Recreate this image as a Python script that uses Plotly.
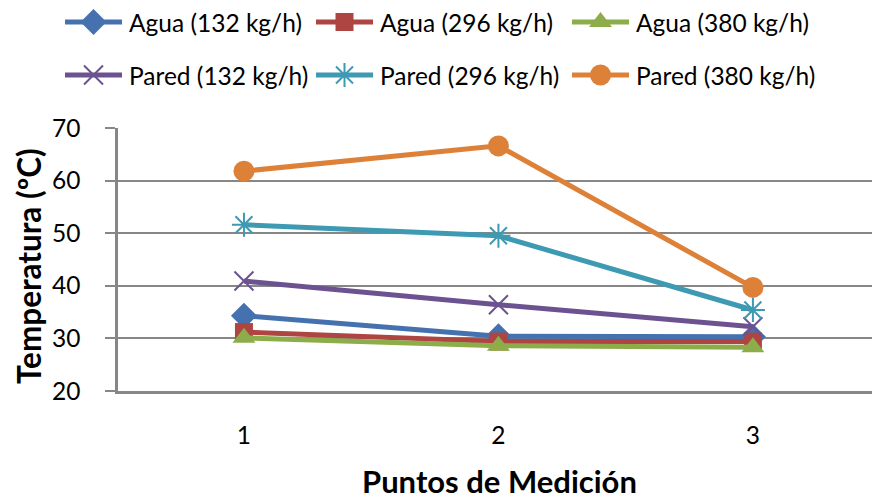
import plotly.graph_objects as go

# Measurement points and temperatures (ºC)
puntos = [1, 2, 3]

agua_132 = [34.3, 30.4, 30.3]
agua_296 = [31.2, 29.4, 29.4]
agua_380 = [30.1, 28.6, 28.3]
pared_132 = [40.9, 36.4, 32.2]
pared_296 = [51.6, 49.5, 35.4]
pared_380 = [61.8, 66.6, 39.7]

series = [
    ("Agua (132 kg/h)", agua_132, "#4572AE", "diamond", 20),
    ("Agua (296 kg/h)", agua_296, "#AF4542", "square", 18),
    ("Agua (380 kg/h)", agua_380, "#8DAC4A", "triangle-up", 20),
    ("Pared (132 kg/h)", pared_132, "#6C5291", "x-thin-open", 19),
    ("Pared (296 kg/h)", pared_296, "#3D9AB2", "asterisk-open", 20),
    ("Pared (380 kg/h)", pared_380, "#DE8138", "circle", 21),
]

FONT = "Lato"
W, H = 872, 502
GRID = "#878787"

fig = go.Figure()

for name, vals, color, sym, size in series:
    thin = sym.endswith("open")
    fig.add_trace(go.Scatter(
        x=puntos, y=vals, mode="lines+markers", name=name,
        line=dict(color=color, width=5),
        marker=dict(symbol=sym, size=size, color=color,
                    line=dict(color=color, width=2 if thin else 0)),
        showlegend=False, cliponaxis=False,
    ))

# Legend drawn on a full-figure axis pair in pixel units
leg_cols = [65, 316, 572]
leg_rows = [22, 75]
for i, (name, vals, color, sym, size) in enumerate(series):
    x0 = leg_cols[i % 3]
    y0 = leg_rows[i // 3]
    thin = sym.endswith("open")
    fig.add_trace(go.Scatter(
        x=[x0, x0 + 57], y=[y0, y0], mode="lines",
        line=dict(color=color, width=5), xaxis="x2", yaxis="y2",
        showlegend=False, hoverinfo="skip",
    ))
    fig.add_trace(go.Scatter(
        x=[x0 + 28.5], y=[y0], mode="markers",
        marker=dict(symbol=sym, size=size, color=color,
                    line=dict(color=color, width=2 if thin else 0)),
        xaxis="x2", yaxis="y2", showlegend=False, hoverinfo="skip",
    ))
    fig.add_annotation(
        x=x0 + 62, y=y0, xref="x2", yref="y2", text=name, showarrow=False,
        xanchor="left", yanchor="middle",
        font=dict(family=FONT, size=24.5, color="#000000"),
    )

fig.add_annotation(
    x=29, y=266, xref="x2", yref="y2", text="<b>Temperatura (ºC)</b>",
    textangle=-90, showarrow=False, xanchor="center", yanchor="middle",
    font=dict(family=FONT, size=31.5, color="#000000"),
)
fig.add_annotation(
    x=499, y=481, xref="x2", yref="y2", text="<b>Puntos de Medición</b>",
    showarrow=False, xanchor="center", yanchor="middle",
    font=dict(family=FONT, size=31, color="#000000"),
)

fig.update_layout(
    width=W, height=H,
    margin=dict(l=0, r=0, t=0, b=0, pad=0, autoexpand=False),
    paper_bgcolor="white", plot_bgcolor="rgba(0,0,0,0)",
    xaxis=dict(
        domain=[118 / W, 1], range=[0.505, 3.468],
        tickvals=puntos, ticktext=[str(p) for p in puntos],
        showgrid=False, zeroline=False,
        showline=True, linecolor=GRID, linewidth=2.5,
        ticks="", ticklabelstandoff=21,
        tickfont=dict(family=FONT, size=24.5, color="#000000"),
    ),
    yaxis=dict(
        domain=[111 / H, (H - 128) / H], range=[20, 70],
        tickvals=[20, 30, 40, 50, 60, 70],
        showgrid=True, gridcolor=GRID, gridwidth=2,
        zeroline=False,
        showline=True, linecolor=GRID, linewidth=2.5,
        ticks="outside", ticklen=10, tickwidth=2, tickcolor=GRID,
        ticklabelstandoff=20,
        tickfont=dict(family=FONT, size=24.5, color="#000000"),
    ),
    xaxis2=dict(domain=[0, 1], range=[0, W], visible=False,
                fixedrange=True, anchor="y2"),
    yaxis2=dict(domain=[0, 1], range=[H, 0], visible=False,
                fixedrange=True, anchor="x2"),
)

fig.write_html("out.html")
